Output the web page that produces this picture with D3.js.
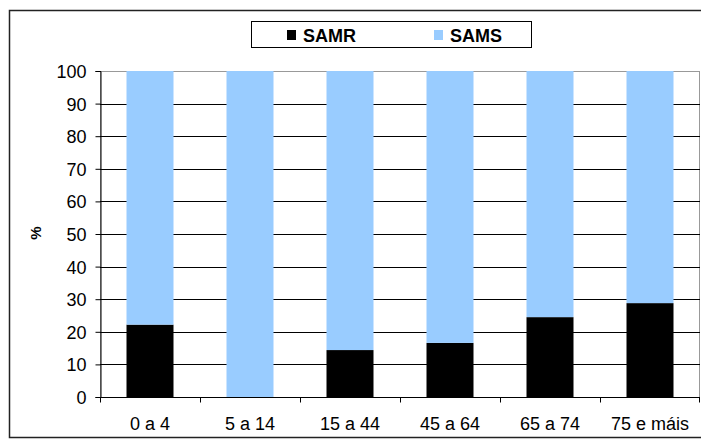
<!DOCTYPE html>
<html lang="pt">
<head>
<meta charset="utf-8">
<title>SAMR / SAMS</title>
<script src="https://cdn.jsdelivr.net/npm/d3@7"></script>
<style>
  body { margin: 0; background: #fff; }
  text { font-family: "Liberation Sans", Arial, sans-serif; fill: #000; }
</style>
</head>
<body>
<script>
// data
var categories = ["0 a 4", "5 a 14", "15 a 44", "45 a 64", "65 a 74", "75 e máis"];
var samr = [22.2, 0, 14.4, 16.6, 24.5, 28.8];
var sams = samr.map(function(v) { return 100 - v; });
var seriesNames = ["SAMR", "SAMS"];
var seriesColors = ["#000000", "#99CCFF"];
var yTicks = [0, 10, 20, 30, 40, 50, 60, 70, 80, 90, 100];

var width = 701, height = 446;
var plot = {left: 100, right: 700, top: 71, bottom: 397};

var svg = d3.select("body").append("svg")
    .attr("width", width)
    .attr("height", height);

// outer frame
svg.append("rect")
    .attr("x", 9.5).attr("y", 10.5)
    .attr("width", 700).attr("height", 427)
    .attr("fill", "none").attr("stroke", "#222").attr("stroke-width", 1.5);

var x = d3.scaleBand()
    .domain(categories)
    .range([plot.left, plot.right])
    .paddingInner(0.53)
    .paddingOuter(0.265);

var y = d3.scaleLinear()
    .domain([0, 100])
    .range([plot.bottom, plot.top]);

// plot area border (grey)
svg.append("rect")
    .attr("x", plot.left + 0.5).attr("y", plot.top + 0.5)
    .attr("width", plot.right - plot.left - 1).attr("height", plot.bottom - plot.top)
    .attr("fill", "none").attr("stroke", "#999");

// gridlines
svg.append("g").selectAll("line")
    .data(yTicks.filter(function(t) { return t > 0 && t < 100; }))
    .enter().append("line")
    .attr("x1", plot.left).attr("x2", plot.right)
    .attr("y1", function(d) { return Math.round(y(d)) + 0.5; })
    .attr("y2", function(d) { return Math.round(y(d)) + 0.5; })
    .attr("stroke", "#000").attr("stroke-width", 1);

// stacked bars
var stackData = categories.map(function(c, i) {
    return {cat: c, SAMR: samr[i], SAMS: sams[i]};
});
var stacked = d3.stack().keys(seriesNames)(stackData);

svg.append("g").selectAll("g")
    .data(stacked)
    .enter().append("g")
    .attr("fill", function(d, i) { return seriesColors[i]; })
    .selectAll("rect")
    .data(function(d) { return d; })
    .enter().append("rect")
    .attr("x", function(d) { return x(d.data.cat); })
    .attr("y", function(d) { return y(d[1]); })
    .attr("width", x.bandwidth())
    .attr("height", function(d) { return y(d[0]) - y(d[1]); });

// y axis
var yAxis = d3.axisLeft(y).tickValues(yTicks).tickSize(5).tickPadding(9);
var gy = svg.append("g")
    .attr("transform", "translate(" + (plot.left + 0.5) + ",0)")
    .call(yAxis);
gy.selectAll("text").style("font-size", "18px").attr("dy", "0.36em");
gy.selectAll("line, path").attr("stroke", "#000");

// x axis with ticks between categories
var xEdges = d3.scaleLinear().domain([0, categories.length]).range([plot.left, plot.right]);
var gx = svg.append("g")
    .attr("transform", "translate(0," + (plot.bottom + 0.5) + ")");
gx.append("line")
    .attr("x1", plot.left).attr("x2", plot.right)
    .attr("stroke", "#000");
gx.selectAll(".tk")
    .data(d3.range(categories.length + 1))
    .enter().append("line")
    .attr("class", "tk")
    .attr("x1", function(d) { return Math.round(xEdges(d)) + (d === categories.length ? -0.5 : 0.5); })
    .attr("x2", function(d) { return Math.round(xEdges(d)) + (d === categories.length ? -0.5 : 0.5); })
    .attr("y1", 0).attr("y2", 5)
    .attr("stroke", "#000");
gx.selectAll(".lbl")
    .data(categories)
    .enter().append("text")
    .attr("class", "lbl")
    .attr("x", function(d) { return x(d) + x.bandwidth() / 2; })
    .attr("y", 32.5)
    .attr("text-anchor", "middle")
    .style("font-size", "18px")
    .text(function(d) { return d; });

// y axis title
svg.append("text")
    .attr("transform", "translate(41,233) rotate(-90)")
    .attr("text-anchor", "middle")
    .style("font-size", "15px")
    .style("font-weight", "bold")
    .text("%");

// legend
var legend = svg.append("g");
legend.append("rect")
    .attr("x", 251.5).attr("y", 21.5)
    .attr("width", 280).attr("height", 26)
    .attr("fill", "#fff").attr("stroke", "#000");
var legendX = [287, 434];
seriesNames.forEach(function(name, i) {
    legend.append("rect")
        .attr("x", legendX[i]).attr("y", 30)
        .attr("width", 9).attr("height", 10)
        .attr("fill", seriesColors[i]);
    legend.append("text")
        .attr("x", legendX[i] + 16).attr("y", 41.5)
        .style("font-size", "18px")
        .style("font-weight", "bold")
        .text(name);
});
</script>
</body>
</html>
